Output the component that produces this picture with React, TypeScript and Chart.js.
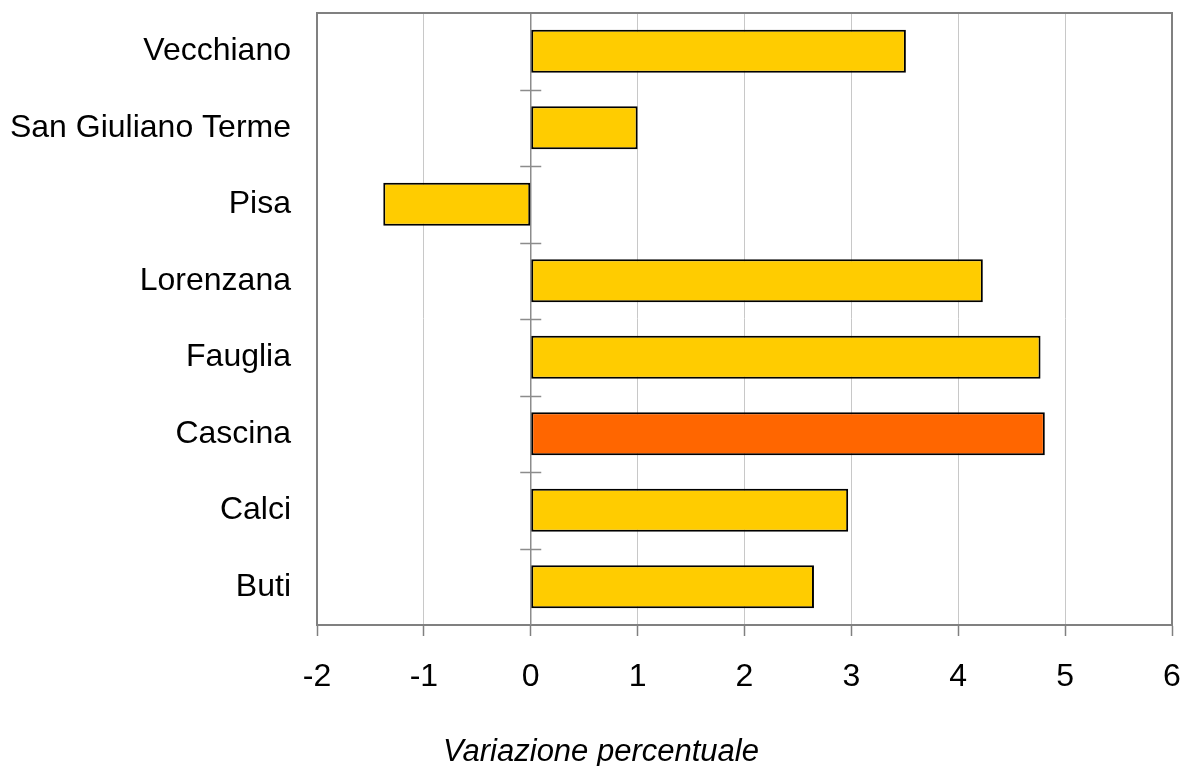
import React, { useEffect, useRef } from "react";
import { Chart, registerables } from "chart.js";

Chart.register(...registerables);

const categories: string[] = [
  "Vecchiano",
  "San Giuliano Terme",
  "Pisa",
  "Lorenzana",
  "Fauglia",
  "Cascina",
  "Calci",
  "Buti",
];
const values: number[] = [3.51, 1.0, -1.38, 4.23, 4.77, 4.81, 2.97, 2.65];
const barColors: string[] = [
  "#FFCC00",
  "#FFCC00",
  "#FFCC00",
  "#FFCC00",
  "#FFCC00",
  "#FF6600",
  "#FFCC00",
  "#FFCC00",
];
const xMin = -2;
const xMax = 6;
const axisTitle = "Variazione percentuale";
const FONT = "'Liberation Sans', Arial, Helvetica, sans-serif";

const framePlugin = {
  id: "framePlugin",
  beforeDatasetsDraw(chart: any) {
    const { ctx, chartArea, scales } = chart;
    const x0 = scales.x.getPixelForValue(0);
    ctx.save();
    ctx.strokeStyle = "#8c8c8c";
    ctx.lineWidth = 1.5;
    ctx.beginPath();
    ctx.moveTo(x0, chartArea.top);
    ctx.lineTo(x0, chartArea.bottom);
    const n = categories.length;
    const step = (chartArea.bottom - chartArea.top) / n;
    for (let i = 1; i < n; i++) {
      const y = Math.round(chartArea.top + step * i) + 0.5;
      ctx.moveTo(x0 - 10.5, y);
      ctx.lineTo(x0 + 10.5, y);
    }
    ctx.stroke();
    ctx.restore();
  },
  afterDatasetsDraw(chart: any) {
    const { ctx, chartArea } = chart;
    ctx.save();
    ctx.strokeStyle = "#808080";
    ctx.lineWidth = 2;
    ctx.beginPath();
    ctx.moveTo(chartArea.left, chartArea.top);
    ctx.lineTo(chartArea.right, chartArea.top);
    ctx.lineTo(chartArea.right, chartArea.bottom);
    ctx.stroke();
    ctx.fillStyle = "#000";
    ctx.font = "italic 31px " + FONT;
    ctx.textAlign = "center";
    ctx.textBaseline = "alphabetic";
    ctx.fillText(axisTitle, 601, 761);
    ctx.restore();
  },
};

const zeroPad = (scale: any) => {
  scale.paddingTop = 0;
  scale.paddingBottom = 0;
  scale.paddingLeft = 0;
  scale.paddingRight = 0;
};

export default function App() {
  const ref = useRef<HTMLCanvasElement | null>(null);
  useEffect(() => {
    if (!ref.current) return;
    const chart = new Chart(ref.current, {
      type: "bar",
      data: {
        labels: categories,
        datasets: [
          {
            data: values,
            backgroundColor: barColors,
            borderColor: "#000000",
            borderWidth: 2,
            borderSkipped: false,
            barPercentage: 0.565,
            categoryPercentage: 1,
          },
        ],
      },
      options: {
        indexAxis: "y",
        responsive: false,
        animation: false,
        layout: { padding: { top: 13, right: 19, bottom: 0, left: 0 } },
        plugins: {
          legend: { display: false },
          title: { display: false },
          tooltip: { enabled: false },
        },
        scales: {
          x: {
            type: "linear",
            min: xMin,
            max: xMax,
            afterFit: (scale: any) => {
              scale.height = 141;
              zeroPad(scale);
            },
            ticks: {
              stepSize: 1,
              color: "#000",
              font: { family: FONT, size: 32 },
              padding: 22,
            },
            grid: {
              color: "#c8c8c8",
              lineWidth: 1,
              tickColor: "#808080",
              tickLength: 11,
              tickWidth: 1.5,
            },
            border: { display: true, color: "#808080", width: 2 },
          },
          y: {
            afterFit: (scale: any) => {
              scale.width = 317;
              zeroPad(scale);
            },
            ticks: {
              color: "#000",
              font: { family: FONT, size: 32 },
              padding: 26,
            },
            grid: { display: false, drawTicks: false, tickLength: 0 },
            border: { display: true, color: "#808080", width: 2 },
          },
        },
      },
      plugins: [framePlugin],
    });
    return () => chart.destroy();
  }, []);
  return (
    <div style={{ position: "fixed", left: 0, top: 0, width: 1191, height: 766, background: "#fff" }}>
      <canvas ref={ref} width={1191} height={766} />
    </div>
  );
}
